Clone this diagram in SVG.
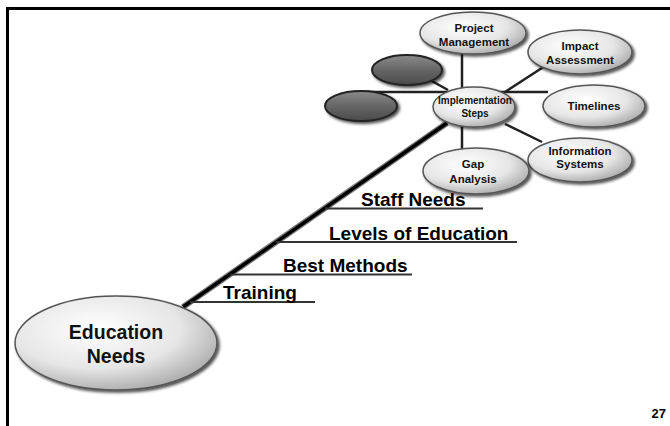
<svg xmlns="http://www.w3.org/2000/svg" width="670" height="426" viewBox="0 0 670 426">
<defs>
<radialGradient id="lg" cx="0.4" cy="0.35" r="0.7">
<stop offset="0" stop-color="#ffffff"/>
<stop offset="0.6" stop-color="#e6e6e6"/>
<stop offset="1" stop-color="#a8a8a8"/>
</radialGradient>
<linearGradient id="dg" x1="0" y1="0" x2="0" y2="1">
<stop offset="0" stop-color="#8a8a8a"/>
<stop offset="0.5" stop-color="#666666"/>
<stop offset="1" stop-color="#4a4a4a"/>
</linearGradient>
<filter id="sh" x="-20%" y="-20%" width="150%" height="150%">
<feGaussianBlur in="SourceAlpha" stdDeviation="1.5"/>
<feOffset dx="1.5" dy="2" result="b"/>
<feComponentTransfer><feFuncA type="linear" slope="0.7"/></feComponentTransfer>
<feMerge><feMergeNode/><feMergeNode in="SourceGraphic"/></feMerge>
</filter>
</defs>
<style>
.n{fill:url(#lg);stroke:#555;stroke-width:1.5;filter:url(#sh)}
.d{fill:url(#dg);stroke:#222;stroke-width:2;filter:url(#sh)}
.t{font-family:"Liberation Sans",Arial,sans-serif;font-weight:bold;fill:#111;text-anchor:middle}
.s{font-size:11.5px}
.b{font-family:"Liberation Sans",Arial,sans-serif;font-weight:bold;font-size:19px;fill:#000}
.c{stroke:#222;stroke-width:2.5;fill:none}
.u{stroke:#333;stroke-width:2;fill:none}
</style>
<rect width="670" height="426" fill="#fff"/>
<g id="frame" fill="none" stroke="#000" stroke-width="3">
<path d="M7.5,426 V8.5 H670"/>
</g>
<g id="connectors">
<line x1="183" y1="307" x2="447" y2="123" stroke="#777" stroke-width="6"/>
<line x1="183" y1="307" x2="447" y2="123" stroke="#000" stroke-width="3.5"/>
<line class="c" x1="462" y1="50" x2="462" y2="90"/>
<line class="c" x1="462" y1="125" x2="462" y2="150"/>
<line class="c" x1="505" y1="92" x2="545" y2="66"/>
<line class="c" x1="360" y1="92" x2="548" y2="92"/>
<line class="c" x1="430" y1="80" x2="448" y2="90"/>
<line class="c" x1="505" y1="124" x2="542" y2="142"/>
<line class="u" x1="190" y1="302" x2="315" y2="302"/>
<line class="u" x1="230" y1="274.5" x2="412" y2="274.5"/>
<line class="u" x1="276" y1="242" x2="517" y2="242"/>
<line class="u" x1="325" y1="208.5" x2="483" y2="208.5"/>
</g>
<g id="dark1"><ellipse class="d" cx="407" cy="70" rx="35" ry="15"/></g>
<g id="dark2"><ellipse class="d" cx="361" cy="106" rx="36" ry="15"/></g>
<g id="project-management">
<ellipse class="n" cx="473" cy="33" rx="53" ry="21"/>
<text class="t s" x="474" y="32">Project</text>
<text class="t s" x="474" y="46">Management</text>
</g>
<g id="impact-assessment">
<ellipse class="n" cx="580" cy="52" rx="52" ry="22"/>
<text class="t s" x="580" y="50">Impact</text>
<text class="t s" x="580" y="64">Assessment</text>
</g>
<g id="timelines">
<ellipse class="n" cx="594" cy="106" rx="51" ry="21"/>
<text class="t s" x="594" y="110">Timelines</text>
</g>
<g id="information-systems">
<ellipse class="n" cx="580" cy="160" rx="52" ry="22"/>
<text class="t s" x="580" y="155">Information</text>
<text class="t s" x="580" y="168">Systems</text>
</g>
<g id="gap-analysis">
<ellipse class="n" cx="476" cy="171" rx="53" ry="23"/>
<text class="t s" x="473" y="168">Gap</text>
<text class="t s" x="473" y="183">Analysis</text>
</g>
<g id="implementation-steps">
<ellipse class="n" cx="474" cy="107" rx="41" ry="20"/>
<text class="t" x="475" y="104" font-size="10">Implementation</text>
<text class="t" x="475" y="117" font-size="10">Steps</text>
</g>
<g id="education-needs">
<ellipse class="n" cx="116" cy="343" rx="101" ry="47" stroke-width="2"/>
<text class="t" x="116" y="339" font-size="19.5">Education</text>
<text class="t" x="116" y="363" font-size="19.5">Needs</text>
</g>
<g id="labels">
<text class="b" x="361" y="206">Staff Needs</text>
<text class="b" x="329" y="240">Levels of Education</text>
<text class="b" x="283" y="272">Best Methods</text>
<text class="b" x="223" y="299">Training</text>
</g>
<text x="666" y="418" font-family="Liberation Sans,Arial,sans-serif" font-weight="bold" font-size="13" text-anchor="end">27</text>
</svg>
